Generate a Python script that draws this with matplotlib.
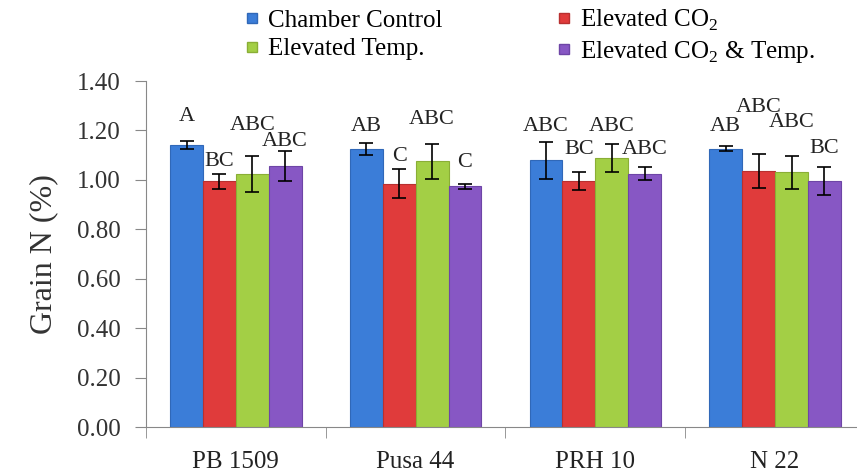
import matplotlib.pyplot as plt
import numpy as np
from matplotlib.lines import Line2D

plt.rcParams['font.family'] = ['Liberation Serif', 'DejaVu Serif']
plt.rcParams['mathtext.fontset'] = 'custom'
plt.rcParams['mathtext.rm'] = 'Liberation Serif'

# data
cultivars = ['PB 1509', 'Pusa 44', 'PRH 10', 'N 22']
treatments = ['Chamber Control', r'Elevated CO$_\mathregular{2}$', 'Elevated Temp.',
              r'Elevated CO$_\mathregular{2}$ & Temp.']
chamber = [1.14, 1.125, 1.08, 1.125]
co2 = [0.995, 0.985, 0.995, 1.035]
temp = [1.025, 1.075, 1.09, 1.03]
co2_temp = [1.055, 0.975, 1.025, 0.995]
chamber_err = [0.016, 0.026, 0.075, 0.01]
co2_err = [0.03, 0.057, 0.036, 0.068]
temp_err = [0.073, 0.07, 0.057, 0.065]
co2_temp_err = [0.06, 0.01, 0.026, 0.057]
letters = [['A', 'BC', 'ABC', 'ABC'],
           ['AB', 'C', 'ABC', 'C'],
           ['ABC', 'BC', 'ABC', 'ABC'],
           ['AB', 'ABC', 'ABC', 'BC']]
letter_y = [[1.255, 1.073, 1.219, 1.154],
            [1.215, 1.093, 1.243, 1.069],
            [1.215, 1.121, 1.215, 1.121],
            [1.215, 1.291, 1.231, 1.125]]

colors = ['#3b7dd8', '#e03b3b', '#a3cf45', '#8757c4']
edges = ['#3068b8', '#b83030', '#8aae36', '#6e45a6']

means = [chamber, co2, temp, co2_temp]
errs = [chamber_err, co2_err, temp_err, co2_temp_err]

fig = plt.figure(figsize=(8.57, 4.75), dpi=100)
ax = fig.add_axes([146/857, 48/475, 1 - 146/857, (427-81)/475])

x = np.arange(len(cultivars))
w = 0.183
for i in range(4):
    pos = x - 1.5*w + i*w
    ax.bar(pos, means[i], w, color=colors[i], edgecolor=edges[i], linewidth=0.8, zorder=2)
    ax.errorbar(pos, means[i], yerr=errs[i], fmt='none', ecolor='black',
                elinewidth=1.2, capsize=5, capthick=1.2, zorder=3)
    for j in range(len(cultivars)):
        ax.text(pos[j], letter_y[j][i], letters[j][i], ha='center', va='center',
                fontsize=16, color='#222222')

ax.set_xlim(-0.5, 3.5 - 8/180)
ax.set_ylim(0, 1.4)
ax.set_yticks(np.arange(0, 1.41, 0.2))
ax.set_yticklabels(['%.2f' % v for v in np.arange(0, 1.41, 0.2)], fontsize=18, color='#333333')
ax.set_xticks(x)
ax.set_xticklabels(cultivars, fontsize=18, color='#222222')
ax.set_xticks(np.arange(-0.5, 3.5, 1), minor=True)
ax.tick_params(axis='x', which='major', length=0, pad=17)
ax.tick_params(axis='x', which='minor', length=8, color='#888888')
ax.tick_params(axis='y', length=8, color='#888888', pad=10)
ax.set_ylabel('Grain N (%)', fontsize=23, color='#333333', labelpad=14)

for s in ['top', 'right']:
    ax.spines[s].set_visible(False)
ax.spines['left'].set_color('#888888')
ax.spines['bottom'].set_color('#888888')

handles = [Line2D([], [], marker='s', linestyle='none', markersize=7,
                  markerfacecolor=colors[i], markeredgecolor=edges[i]) for i in range(4)]
order = [0, 2, 1, 3]
fig.legend([handles[k] for k in order], [treatments[k] for k in order],
           loc='upper left', bbox_to_anchor=(236/857, 1.005), ncol=2, frameon=False,
           fontsize=18, handlelength=0.5, handletextpad=0.4, columnspacing=4.6,
           labelspacing=0.25, borderaxespad=0)

fig.savefig('out.png', dpi=100)
